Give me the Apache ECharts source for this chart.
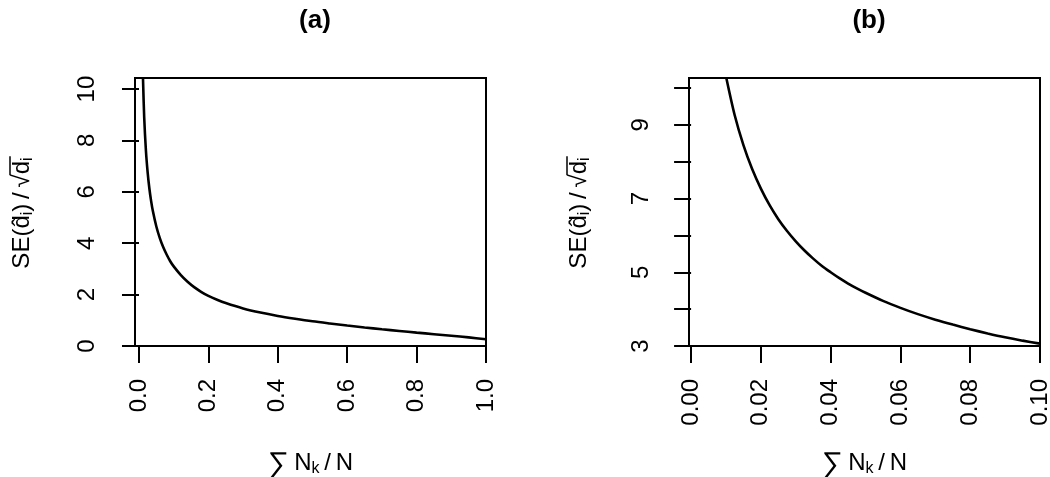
<!DOCTYPE html>
<html>
<head>
<meta charset="utf-8">
<script src="https://cdn.jsdelivr.net/npm/echarts@6/dist/echarts.min.js"></script>
<style>
  html, body { margin: 0; padding: 0; background: #fff; }
  #chart { width: 1050px; height: 477px; }
</style>
</head>
<body>
<div id="chart"></div>
<script>
// (a) full range of the share
const shareA = [0.0115, 0.015, 0.02, 0.025, 0.03, 0.035, 0.04, 0.05, 0.06, 0.07, 0.08, 0.09,
  0.1, 0.12, 0.14, 0.16, 0.18, 0.2, 0.225, 0.25, 0.3, 0.35, 0.4, 0.45, 0.5, 0.55, 0.6, 0.65, 0.7,
  0.75, 0.8, 0.85, 0.9, 0.95, 1.0];
const seA = [10.43, 8.9, 7.6, 6.75, 6.12, 5.64, 5.25, 4.65, 4.2, 3.84, 3.55, 3.3,
  3.1, 2.77, 2.5, 2.28, 2.1, 1.95, 1.8, 1.67, 1.46, 1.3, 1.17, 1.06, 0.96, 0.875, 0.795, 0.72, 0.65,
  0.585, 0.52, 0.46, 0.4, 0.335, 0.26];
// (b) zoom on 0 - 0.1
const shareB = [0.0101, 0.0125, 0.015, 0.0175, 0.02, 0.0225, 0.025, 0.0275, 0.03, 0.0325, 0.035,
  0.0375, 0.04, 0.0425, 0.045, 0.0475, 0.05, 0.055, 0.06, 0.065, 0.07, 0.075, 0.08, 0.085, 0.09,
  0.095, 0.1];
const seB = [10.27, 9.26, 8.45, 7.8, 7.27, 6.82, 6.44, 6.12, 5.84, 5.59, 5.37,
  5.17, 5.0, 4.84, 4.695, 4.565, 4.445, 4.225, 4.035, 3.865, 3.715, 3.58, 3.455, 3.34, 3.235,
  3.145, 3.065];

const xTicksA = [0, 0.2, 0.4, 0.6, 0.8, 1.0];
const yTicksA = [0, 2, 4, 6, 8, 10];
const xTicksB = [0, 0.02, 0.04, 0.06, 0.08, 0.1];
const yTicksB = [3, 4, 5, 6, 7, 8, 9, 10];
const yLabelsB = [3, 5, 7, 9];

const FONT = '"Liberation Sans", Arial, sans-serif';
const rich = {
  m: { fontSize: 24, fontFamily: FONT, color: '#000' },
  s: { fontSize: 16, fontFamily: FONT, color: '#000', padding: [12, 0, 0, 0] },
  g: { fontSize: 30, fontFamily: FONT, color: '#000', padding: [4, 0, 0, 0] }
};

// text widths, used to put the bar of the square root over d_i
const ctx = document.createElement('canvas').getContext('2d');
function tw(s, size) {
  ctx.font = size + 'px ' + FONT;
  return ctx.measureText(s).width;
}

function yTitle(cx, cy) {
  const leftW = tw('SE(d\u0302', 24) + tw('i', 16) + tw(')\u2009/\u2009\u221A', 24);
  const rightW = tw('d', 24) + tw('i', 16);
  const w = leftW + rightW;
  return {
    type: 'group',
    x: cx,
    y: cy,
    rotation: Math.PI / 2,
    children: [
      {
        type: 'text',
        x: -w / 2,
        y: 0,
        style: {
          text: '{m|SE(d\u0302}{s|i}{m|)\u2009/\u2009\u221A}{m|d}{s|i}',
          rich: rich,
          align: 'left',
          verticalAlign: 'middle'
        }
      },
      {
        type: 'line',
        shape: { x1: -w / 2 + leftW - 1, y1: -12, x2: w / 2 + 1, y2: -12 },
        style: { stroke: '#000', lineWidth: 1.5 }
      }
    ]
  };
}

function xAxisOf(idx, min, max, ticks, digits) {
  return {
    type: 'value',
    gridIndex: idx,
    min: min,
    max: max,
    name: '{g|\u2211}{m|\u2009N}{s|k}{m|\u2009/\u2009N}',
    nameLocation: 'middle',
    nameGap: 100,
    nameTextStyle: { rich: rich },
    axisLine: { show: false },
    axisTick: {
      show: true, inside: false, length: 17, customValues: ticks,
      lineStyle: { color: '#000', width: 2 }
    },
    axisLabel: {
      rotate: 90, margin: 33, fontSize: 24, fontFamily: FONT, color: '#000',
      customValues: ticks,
      formatter: (v) => v.toFixed(digits)
    },
    splitLine: { show: false }
  };
}

function yAxisOf(idx, min, max, ticks, labels) {
  return {
    type: 'value',
    gridIndex: idx,
    min: min,
    max: max,
    axisLine: { show: false },
    axisTick: {
      show: true, inside: false, length: 17, customValues: ticks,
      lineStyle: { color: '#000', width: 2 }
    },
    axisLabel: {
      rotate: 90, margin: 36, fontSize: 24, fontFamily: FONT, color: '#000',
      customValues: labels
    },
    splitLine: { show: false }
  };
}

const chart = echarts.init(document.getElementById('chart'));
const option = {
  backgroundColor: '#fff',
  animation: false,
  title: [
    { text: '(a)', left: 310, top: 3, textAlign: 'center',
      textStyle: { fontSize: 26, fontWeight: 'bold', fontFamily: FONT, color: '#000' } },
    { text: '(b)', left: 864, top: 3, textAlign: 'center',
      textStyle: { fontSize: 26, fontWeight: 'bold', fontFamily: FONT, color: '#000' } }
  ],
  grid: [
    { left: 135, top: 78, width: 351, height: 268, show: true, outerBoundsMode: 'none',
      borderColor: '#000', borderWidth: 2, backgroundColor: 'transparent' },
    { left: 689, top: 78, width: 351, height: 268, show: true, outerBoundsMode: 'none',
      borderColor: '#000', borderWidth: 2, backgroundColor: 'transparent' }
  ],
  xAxis: [
    xAxisOf(0, -0.0115, 1.0, xTicksA, 1),
    xAxisOf(1, -0.0006, 0.1, xTicksB, 2)
  ],
  yAxis: [
    yAxisOf(0, 0, 10.43, yTicksA, yTicksA),
    yAxisOf(1, 3, 10.27, yTicksB, yLabelsB)
  ],
  series: [
    {
      type: 'line', xAxisIndex: 0, yAxisIndex: 0,
      data: shareA.map((p, i) => [p, seA[i]]),
      showSymbol: false, smooth: 0.3,
      lineStyle: { color: '#000', width: 2.6 }
    },
    {
      type: 'line', xAxisIndex: 1, yAxisIndex: 1,
      data: shareB.map((p, i) => [p, seB[i]]),
      showSymbol: false, smooth: 0.3,
      lineStyle: { color: '#000', width: 2.6 }
    }
  ],
  graphic: [yTitle(22, 213), yTitle(579, 213)]
};
chart.setOption(option);
</script>
</body>
</html>
